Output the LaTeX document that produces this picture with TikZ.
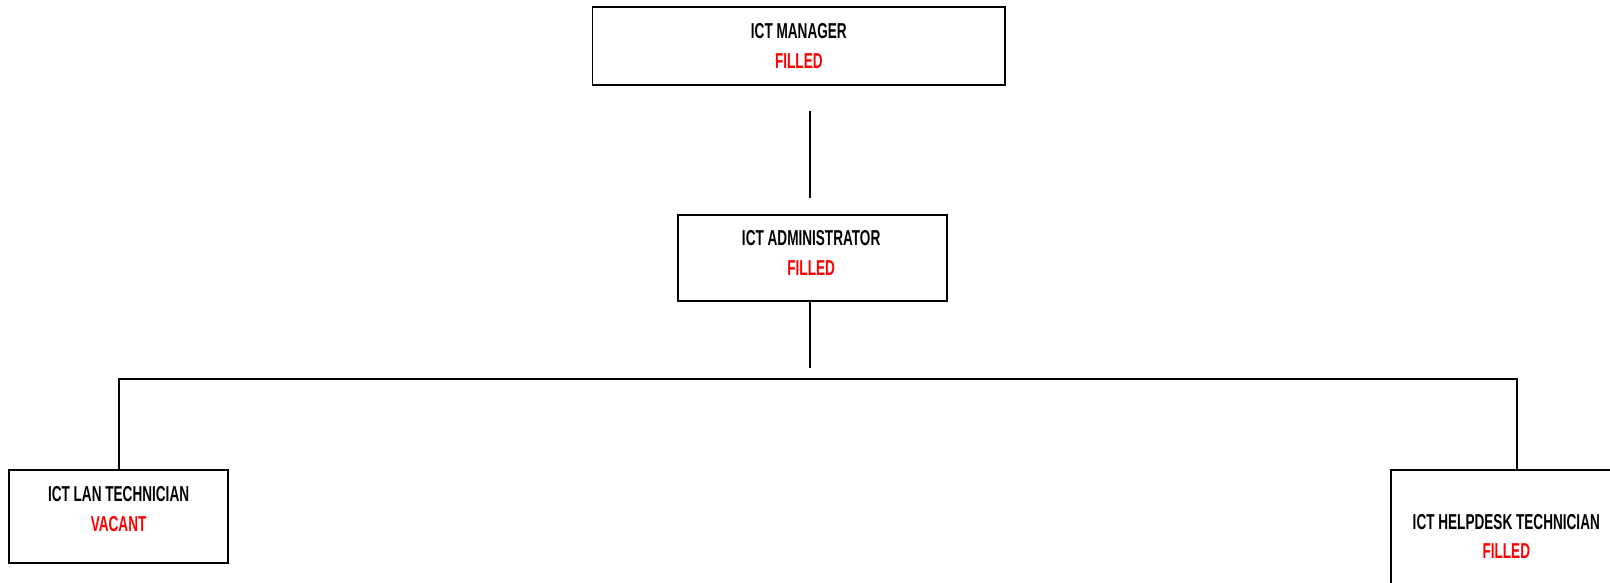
\documentclass[tikz,border=0pt]{standalone}
\usepackage{fontspec}
\setmainfont{Liberation Sans}[FakeStretch=0.63]
\usetikzlibrary{positioning}
\definecolor{vred}{RGB}{255,0,0}
\begin{document}
\begin{tikzpicture}[x=1pt,y=-1pt,
  txt/.style={align=center, inner sep=0pt, font=\fontsize{21}{29}\selectfont\bfseries},
  post/.style={draw=black, line width=1.8pt, fill=white, inner sep=0pt},
  conn/.style={line width=1.8pt}]
\useasboundingbox (0,0) rectangle (1568,567);
\node[post, minimum width=402pt, minimum height=76pt] (mgr) at (778,45) {};
\node[txt] (mgrtxt) at (778,44.5) {ICT MANAGER\\\textcolor{vred}{FILLED}};
\node[post, minimum width=262pt, minimum height=84pt] (adm) at (791,251) {};
\node[txt] (admtxt) at (790,246.5) {ICT ADMINISTRATOR\\\textcolor{vred}{FILLED}};
\node[post, minimum width=213pt, minimum height=90pt] (lan) at (115.5,503) {};
\node[txt] (lantxt) at (115.5,495.5) {ICT LAN TECHNICIAN\\\textcolor{vred}{VACANT}};
\node[post, minimum width=260pt, minimum height=130pt, anchor=north west] (help) at (1354,457) {};
\node[txt] (helptxt) at (1467,522.5) {ICT HELPDESK TECHNICIAN\\\textcolor{vred}{FILLED}};
\coordinate (a1) at (789,108);
\coordinate (a2) at (789,193);
\coordinate (b2) at (789,358);
\coordinate (hl) at (116,369);
\coordinate (hr) at (1477,369);
\draw[conn] (a1) -- (a2);
\draw[conn] (adm.south -| b2) -- (b2);
\draw[conn] (lan.north -| hl) -- (hl) -- (hr) -- (hr |- help.north);
\end{tikzpicture}
\end{document}
